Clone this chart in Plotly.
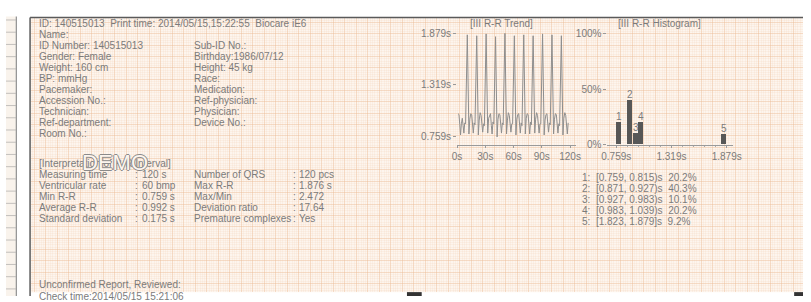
import numpy as np
import plotly.graph_objects as go

W, H = 811, 302
FONT = "Liberation Sans, Arial, sans-serif"
TXT = "#7b7b7b"

# ---------------- data ----------------
header_line = "ID: 140515013  Print time: 2014/05/15,15:22:55  Biocare iE6"
info_left = ["Name:", "ID Number: 140515013", "Gender: Female", "Weight: 160 cm",
             "BP: mmHg", "Pacemaker:", "Accession No.:", "Technician:",
             "Ref-department:", "Room No.:"]
info_right = ["Sub-ID No.:", "Birthday:1986/07/12", "Height: 45 kg", "Race:",
              "Medication:", "Ref-physician:", "Physician:", "Device No.:"]

interp_title = "[Interpretation of R-R Interval]"
interp_labels_1 = ["Measuring time", "Ventricular rate", "Min R-R", "Average R-R", "Standard deviation"]
interp_values_1 = ["120 s", "60 bmp", "0.759 s", "0.992 s", "0.175 s"]
interp_labels_2 = ["Number of QRS", "Max R-R", "Max/Min", "Deviation ratio", "Premature complexes"]
interp_values_2 = ["120 pcs", "1.876 s", "2.472", "17.64", "Yes"]

footer_lines = ["Unconfirmed Report, Reviewed:", "Check time:2014/05/15 15:21:06"]

trend_title = "[III R-R Trend]"
hist_title = "[III R-R Histogram]"

# R-R intervals (s), 119 intervals for 120 QRS
rr_intervals = [
    1.01, 1.00, 0.89, 0.78, 0.90, 0.96, 0.88, 0.80, 0.91, 0.90,
    1.86, 0.90, 0.79, 0.95, 1.01, 1.00, 0.88, 0.80, 0.91, 0.89,
    1.85, 0.91, 0.78, 0.94, 1.02, 0.99, 0.89, 0.81, 0.90, 0.88,
    1.87, 0.89, 0.80, 0.96, 1.00, 1.01, 0.88, 0.79, 0.92, 0.90,
    1.84, 0.90, 0.759, 0.95, 1.01, 1.00, 0.89, 0.80, 0.91, 0.89,
    1.876, 0.91, 0.79, 0.94, 1.02, 0.99, 0.88, 0.81, 0.90, 0.90,
    1.85, 0.90, 0.78, 0.95, 1.00, 1.01, 0.89, 0.80, 0.91, 0.88,
    1.86, 0.89, 0.79, 0.96, 1.01, 1.00, 0.88, 0.79, 0.92, 0.89,
    1.85, 0.90, 0.80, 0.95, 1.02, 0.99, 0.89, 0.80, 0.90, 0.90,
    1.87, 0.91, 0.78, 0.94, 1.00, 1.01, 0.88, 0.81, 0.91, 0.89,
    1.86, 0.90, 0.79, 0.95, 1.01, 1.00, 0.89, 0.80, 0.90, 0.88,
    1.85, 0.90, 0.78, 0.96, 1.02, 0.99, 0.89, 0.79, 0.91,
]
trend_x_ticks = [0, 30, 60, 90, 120]
trend_x_ticktext = ["0s", "30s", "60s", "90s", "120s"]
trend_y_ticks = [0.759, 1.319, 1.879]
trend_y_ticktext = ["0.759s", "1.319s", "1.879s"]

bin_low = [0.759, 0.871, 0.927, 0.983, 1.823]
bin_high = [0.815, 0.927, 0.983, 1.039, 1.879]
bin_pct = [20.2, 40.3, 10.1, 20.2, 9.2]
bin_labels = ["1", "2", "3", "4", "5"]
hist_x_ticks = [0.759, 1.319, 1.879]
hist_x_ticktext = ["0.759s", "1.319s", "1.879s"]
hist_y_ticks = [0, 50, 100]
hist_y_ticktext = ["0%", "50%", "100%"]

# ---------------- figure ----------------
fig = go.Figure()

fig.add_trace(go.Scatter(x=[], y=[], xaxis="x", yaxis="y", showlegend=False, hoverinfo="skip"))

beat_times = np.cumsum(rr_intervals)
fig.add_trace(go.Scatter(x=beat_times, y=rr_intervals, xaxis="x2", yaxis="y2", mode="lines",
                         line=dict(color="#8e8e8e", width=1), showlegend=False, hoverinfo="skip"))

centers = [(lo + hi) / 2 for lo, hi in zip(bin_low, bin_high)]
widths = [(hi - lo) * 0.88 for lo, hi in zip(bin_low, bin_high)]
fig.add_trace(go.Bar(x=centers, y=bin_pct, width=widths, xaxis="x3", yaxis="y3",
                     marker=dict(color="#575757", line=dict(width=0)),
                     text=bin_labels, textposition="outside", constraintext="none",
                     cliponaxis=False, textfont=dict(family=FONT, size=10, color=TXT),
                     showlegend=False, hoverinfo="skip"))

MAJOR = "rgba(236,186,146,0.45)"
MINOR = "rgba(244,212,186,0.20)"

axfont = dict(family=FONT, size=10, color=TXT)

fig.update_layout(
    width=W, height=H, autosize=False,
    margin=dict(l=0, r=0, t=0, b=0, pad=0),
    paper_bgcolor="white", plot_bgcolor="rgba(0,0,0,0)",
    showlegend=False,
    xaxis=dict(domain=[25 / W, 1], range=[25, 811], showgrid=True, gridcolor=MAJOR, gridwidth=1,
               tickmode="linear", tick0=29, dtick=11.7,
               minor=dict(dtick=2.34, tick0=29, showgrid=True, gridcolor=MINOR, gridwidth=0.6),
               showticklabels=False, ticks="", zeroline=False, showline=False, fixedrange=True),
    yaxis=dict(domain=[4 / H, 287 / H], range=[298, 15], showgrid=True, gridcolor=MAJOR, gridwidth=1,
               tickmode="linear", tick0=20, dtick=11.7,
               minor=dict(dtick=2.34, tick0=20, showgrid=True, gridcolor=MINOR, gridwidth=0.6),
               showticklabels=False, ticks="", zeroline=False, showline=False, fixedrange=True),
    xaxis2=dict(domain=[459 / W, 580 / W], range=[0, 126.3], anchor="y2",
                tickmode="array", tickvals=trend_x_ticks, ticktext=trend_x_ticktext,
                ticks="outside", ticklen=2, tickcolor="#999", tickfont=axfont,
                showline=True, linecolor="#9a9a9a", linewidth=1, showgrid=False, zeroline=False),
    yaxis2=dict(domain=[(H - 146) / H, (H - 28) / H], range=[0.6753, 1.9104], anchor="x2",
                tickmode="array", tickvals=trend_y_ticks, ticktext=trend_y_ticktext,
                ticks="outside", ticklen=3, tickcolor="#999", tickfont=axfont,
                showline=False, showgrid=False, zeroline=False),
    xaxis3=dict(domain=[612 / W, 740 / W], range=[0.6693, 1.9454], anchor="y3",
                tickmode="array", tickvals=hist_x_ticks, ticktext=hist_x_ticktext,
                ticks="outside", ticklen=2, tickcolor="#999", tickfont=axfont,
                minor=dict(ticks="outside", ticklen=1, tick0=0.759, dtick=0.112, tickcolor="#aaa"),
                showline=True, linecolor="#9a9a9a", linewidth=1, showgrid=False, zeroline=False),
    yaxis3=dict(domain=[(H - 146) / H, (H - 28) / H], range=[0, 103.2], anchor="x3",
                tickmode="array", tickvals=hist_y_ticks, ticktext=hist_y_ticktext,
                ticks="outside", ticklen=3, tickcolor="#999", tickfont=axfont,
                showline=False, showgrid=False, zeroline=False),
    bargap=0,
)

# ---------------- decorations (paper) ----------------
def px(x):
    return x / W

def py(y):
    return 1 - y / H

shapes = []
shapes.append(dict(type="rect", xref="paper", yref="paper", x0=px(25), x1=px(811), y0=py(298.5), y1=py(15),
                   fillcolor="#fdf5ee", line=dict(width=0), layer="below"))
shapes.append(dict(type="rect", xref="paper", yref="paper", x0=px(0), x1=px(10), y0=py(302), y1=py(14),
                   fillcolor="#f9f3ec", line=dict(width=0), layer="below"))
for k in range(23):
    yy = 17.5 + k * 12.6
    shapes.append(dict(type="line", xref="paper", yref="paper", x0=px(0), x1=px(10), y0=py(yy), y1=py(yy),
                       line=dict(color="rgba(150,150,150,0.55)", width=1), layer="below"))
shapes.append(dict(type="line", xref="paper", yref="paper", x0=px(10.5), x1=px(10.5), y0=py(302), y1=py(14),
                   line=dict(color="#8e8e8e", width=1.2)))
shapes.append(dict(type="line", xref="paper", yref="paper", x0=px(24.5), x1=px(811), y0=py(15), y1=py(15),
                   line=dict(color="#5a5a5a", width=1.5)))
shapes.append(dict(type="line", xref="paper", yref="paper", x0=px(24.5), x1=px(24.5), y0=py(302), y1=py(15),
                   line=dict(color="#5a5a5a", width=1.5)))
shapes.append(dict(type="rect", xref="paper", yref="paper", x0=px(177), x1=px(811), y0=py(302), y1=py(298.5),
                   fillcolor="white", line=dict(width=0), layer="above"))
shapes.append(dict(type="rect", xref="paper", yref="paper", x0=px(408), x1=px(423), y0=py(302), y1=py(298),
                   fillcolor="#333333", line=dict(width=0), layer="above"))
shapes.append(dict(type="rect", xref="paper", yref="paper", x0=px(802), x1=px(811), y0=py(302), y1=py(298),
                   fillcolor="#333333", line=dict(width=0), layer="above"))
fig.update_layout(shapes=shapes)

# ---------------- text (paper coordinates from pixel positions) ----------------
ann = []

def text(x, y, s, size=10, anchor="left", color=TXT, **kw):
    ann.append(dict(x=px(x), y=py(y), xref="paper", yref="paper", text=s, showarrow=False,
                    xanchor=anchor, yanchor="middle",
                    font=dict(family=FONT, size=size, color=color, **kw)))

text(31.5, 21, header_line)
row_y0, row_dy = 32.3, 11.3
for i, s in enumerate(info_left):
    text(31.5, row_y0 + i * row_dy, s)
for i, s in enumerate(info_right):
    text(189, row_y0 + (i + 1) * row_dy, s)

text(31.5, 165, interp_title)
for i in range(len(interp_labels_1)):
    yy = 176.5 + i * 11.4
    text(31.5, yy, interp_labels_1[i])
    text(129.5, yy, ":")
    text(136.5, yy, interp_values_1[i])
    text(189.5, yy, interp_labels_2[i])
    text(290.5, yy, ":")
    text(296.5, yy, interp_values_2[i])

# DEMO watermark (outlined letters)
text(111, 164, "DEMO", size=22, anchor="center", color="#fdf5ee",
     shadow="1px 0 0 #8a8a8a, -1px 0 0 #8a8a8a, 0 1px 0 #8a8a8a, 0 -1px 0 #8a8a8a")

text(31.5, 290, footer_lines[0])
text(31.5, 302.5, footer_lines[1])

text(504, 21.5, trend_title, anchor="center")
text(620.5, 21.5, hist_title)

for i in range(len(bin_low)):
    close = "]" if i == len(bin_low) - 1 else ")"
    s = f"{i + 1}:  [{bin_low[i]:.3f}, {bin_high[i]:.3f}{close}s  {bin_pct[i]:.1f}%"
    text(584.5, 179.5 + i * 11.3, s)

fig.update_layout(annotations=ann)

fig.write_html("out.html", config={"displayModeBar": False},
               post_script="document.body.style.margin='0';document.body.style.overflow='hidden';")
